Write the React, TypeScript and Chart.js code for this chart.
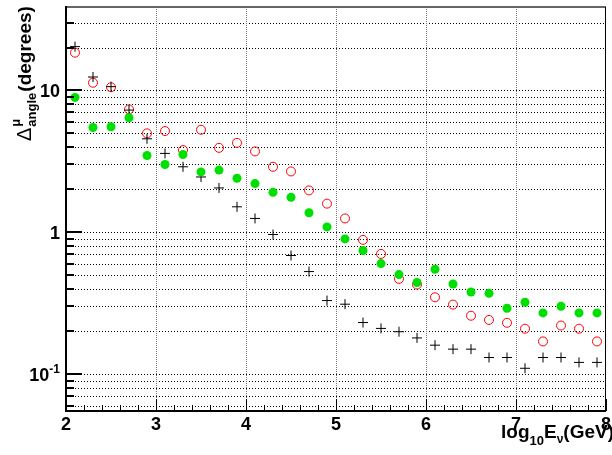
import React, { useEffect, useRef } from "react";
import { Chart, registerables } from "chart.js";

Chart.register(...registerables);

const energies = [2.1, 2.3, 2.5, 2.7, 2.9, 3.1, 3.3, 3.5, 3.7, 3.9, 4.1, 4.3, 4.5, 4.7, 4.9, 5.1, 5.3, 5.5, 5.7, 5.9, 6.1, 6.3, 6.5, 6.7, 6.9, 7.1, 7.3, 7.5, 7.7, 7.9];

const blackValues = [20.3, 12.4, 10.6, 7.25, 4.55, 3.59, 2.89, 2.45, 2.05, 1.51, 1.25, 0.963, 0.685, 0.528, 0.33, 0.311, 0.231, 0.21, 0.199, 0.18, 0.16, 0.15, 0.15, 0.131, 0.131, 0.11, 0.131, 0.131, 0.121, 0.121];

const redValues = [18.4, 11.3, 10.5, 7.33, 4.97, 5.16, 3.79, 5.27, 3.93, 4.26, 3.71, 2.89, 2.68, 1.97, 1.59, 1.25, 0.883, 0.703, 0.469, 0.428, 0.348, 0.309, 0.258, 0.241, 0.23, 0.209, 0.17, 0.22, 0.209, 0.17];

const greenValues = [8.91, 5.47, 5.53, 6.4, 3.47, 3.0, 3.53, 2.66, 2.74, 2.4, 2.2, 1.91, 1.76, 1.37, 1.09, 0.897, 0.743, 0.601, 0.503, 0.442, 0.548, 0.432, 0.379, 0.371, 0.291, 0.321, 0.27, 0.301, 0.27, 0.27];

const xMajorTicks = [2, 3, 4, 5, 6, 7, 8];
const xMinorTicks = [2.2, 2.4, 2.6, 2.8, 3.2, 3.4, 3.6, 3.8, 4.2, 4.4, 4.6, 4.8, 5.2, 5.4, 5.6, 5.8, 6.2, 6.4, 6.6, 6.8, 7.2, 7.4, 7.6, 7.8];
const xGridValues = [3, 4, 5, 6, 7];
const yMajorTicks = [0.1, 1, 10];
const yMinorTicks = [0.06, 0.07, 0.08, 0.09, 0.2, 0.3, 0.4, 0.5, 0.6, 0.7, 0.8, 0.9, 2, 3, 4, 5, 6, 7, 8, 9, 20, 30];
const yTickLabels = [
  { value: 10, base: "10", sup: "" },
  { value: 1, base: "1", sup: "" },
  { value: 0.1, base: "10", sup: "-1" },
];

const FONT = "'Liberation Sans', Arial, Helvetica, sans-serif";

const rootPlugin = {
  id: "rootStyle",
  beforeDatasetsDraw(chart: any) {
    const ctx = chart.ctx as CanvasRenderingContext2D;
    const { left, right, top, bottom } = chart.chartArea;
    const xs = chart.scales.x;
    const ys = chart.scales.y;
    ctx.save();
    ctx.lineWidth = 1;
    ctx.setLineDash([1, 2]);
    ctx.strokeStyle = "#000000";
    const allY = [...yMajorTicks, ...yMinorTicks];
    for (const v of allY) {
      const y = Math.round(ys.getPixelForValue(v)) + 0.5;
      ctx.beginPath();
      ctx.moveTo(left, y);
      ctx.lineTo(right, y);
      ctx.stroke();
    }
    ctx.strokeStyle = "#777777";
    ctx.setLineDash([1, 1]);
    for (const v of xGridValues) {
      const x = Math.round(xs.getPixelForValue(v)) + 0.5;
      ctx.beginPath();
      ctx.moveTo(x, top);
      ctx.lineTo(x, bottom);
      ctx.stroke();
    }
    ctx.restore();
  },
  afterDraw(chart: any) {
    const ctx = chart.ctx as CanvasRenderingContext2D;
    const { left, right, top, bottom } = chart.chartArea;
    const xs = chart.scales.x;
    const ys = chart.scales.y;
    ctx.save();
    ctx.setLineDash([]);
    // frame
    ctx.strokeStyle = "#666666";
    ctx.lineWidth = 2;
    ctx.beginPath();
    ctx.moveTo(left, top);
    ctx.lineTo(right, top);
    ctx.stroke();
    ctx.strokeStyle = "#000000";
    ctx.lineWidth = 1;
    ctx.beginPath();
    ctx.moveTo(right - 0.5, top);
    ctx.lineTo(right - 0.5, bottom);
    ctx.stroke();
    ctx.lineWidth = 2;
    ctx.beginPath();
    ctx.moveTo(left, top - 1);
    ctx.lineTo(left, bottom + 1);
    ctx.moveTo(left - 1, bottom);
    ctx.lineTo(right, bottom);
    ctx.stroke();
    // y ticks
    ctx.lineWidth = 2;
    for (const v of yMajorTicks) {
      const y = Math.round(ys.getPixelForValue(v));
      ctx.beginPath();
      ctx.moveTo(left, y);
      ctx.lineTo(left + 16, y);
      ctx.stroke();
    }
    for (const v of yMinorTicks) {
      const y = Math.round(ys.getPixelForValue(v));
      ctx.beginPath();
      ctx.moveTo(left, y);
      ctx.lineTo(left + 8, y);
      ctx.stroke();
    }
    // x ticks
    ctx.lineWidth = 1;
    for (const v of xMajorTicks) {
      const x = Math.round(xs.getPixelForValue(v)) + 0.5;
      ctx.beginPath();
      ctx.moveTo(x, bottom);
      ctx.lineTo(x, bottom - 12);
      ctx.stroke();
    }
    for (const v of xMinorTicks) {
      const x = Math.round(xs.getPixelForValue(v)) + 0.5;
      ctx.beginPath();
      ctx.moveTo(x, bottom);
      ctx.lineTo(x, bottom - 6);
      ctx.stroke();
    }
    // x tick labels
    ctx.fillStyle = "#000000";
    ctx.font = `bold 18px ${FONT}`;
    ctx.textAlign = "center";
    ctx.textBaseline = "alphabetic";
    for (const v of xMajorTicks) {
      ctx.fillText(String(v), xs.getPixelForValue(v), bottom + 19);
    }
    // y tick labels
    ctx.textAlign = "right";
    for (const t of yTickLabels) {
      const y = ys.getPixelForValue(t.value);
      let xr = left - 6;
      if (t.sup) {
        ctx.font = `bold 12px ${FONT}`;
        ctx.fillText(t.sup, xr, y - 1);
        xr -= ctx.measureText(t.sup).width;
      }
      ctx.font = `bold 18px ${FONT}`;
      ctx.fillText(t.base, xr, y + 7);
    }
    // x axis title
    ctx.textAlign = "left";
    const parts = [
      { t: "log", size: 19, dy: 0 },
      { t: "10", size: 13, dy: 7 },
      { t: "E", size: 19, dy: 0 },
      { t: "\u03bd", size: 12, dy: 5 },
      { t: "(GeV)", size: 19, dy: 0 },
    ];
    let total = 0;
    for (const p of parts) {
      ctx.font = `bold ${p.size}px ${FONT}`;
      total += ctx.measureText(p.t).width;
    }
    let x = 614 - total;
    const base = bottom + 27;
    for (const p of parts) {
      ctx.font = `bold ${p.size}px ${FONT}`;
      ctx.fillText(p.t, x, base + p.dy);
      x += ctx.measureText(p.t).width;
    }
    // y axis title
    ctx.translate(31, 141);
    ctx.rotate(-Math.PI / 2);
    ctx.font = `20px ${FONT}`;
    ctx.fillText("\u0394", 0, 0);
    const wD = ctx.measureText("\u0394").width + 1;
    ctx.font = `bold 13px ${FONT}`;
    ctx.fillText("angle", wD, 5);
    ctx.fillText("\u03bc", wD, -11);
    const wA = ctx.measureText("angle").width + 1;
    ctx.font = `bold 19px ${FONT}`;
    ctx.fillText("(degrees)", wD + wA, 0);
    ctx.restore();
  },
};

export default function App() {
  const canvasRef = useRef<HTMLCanvasElement | null>(null);
  useEffect(() => {
    if (!canvasRef.current) return;
    const toPoints = (vals: number[]) => energies.map((e, i) => ({ x: e, y: vals[i] }));
    const chart = new Chart(canvasRef.current, {
      type: "scatter",
      data: {
        datasets: [
          {
            label: "green",
            data: toPoints(greenValues),
            pointStyle: "circle",
            pointRadius: 4.5,
            pointBackgroundColor: "#00e000",
            pointBorderColor: "#00e000",
            pointBorderWidth: 0,
          },
          {
            label: "black",
            data: toPoints(blackValues),
            pointStyle: "cross",
            pointRadius: 5,
            pointBorderColor: "#000000",
            pointBorderWidth: 1,
          },
          {
            label: "red",
            data: toPoints(redValues),
            pointStyle: "circle",
            pointRadius: 4.5,
            pointBackgroundColor: "rgba(0,0,0,0)",
            pointBorderColor: "#ff0000",
            pointBorderWidth: 1,
          },
        ],
      },
      options: {
        animation: false,
        responsive: false,
        devicePixelRatio: 1,
        layout: { padding: { left: 66, right: 1, top: 7, bottom: 44 } },
        plugins: { legend: { display: false }, tooltip: { enabled: false } },
        events: [],
        scales: {
          x: { type: "linear", min: 2, max: 8, display: false },
          y: { type: "logarithmic", min: 0.055, max: 38.6, display: false },
        },
      },
      plugins: [rootPlugin],
    });
    return () => chart.destroy();
  }, []);
  return (
    <div style={{ position: "fixed", left: 0, top: 0, width: 612, height: 455, background: "#ffffff" }}>
      <canvas ref={canvasRef} width={612} height={455} style={{ display: "block" }} />
    </div>
  );
}
